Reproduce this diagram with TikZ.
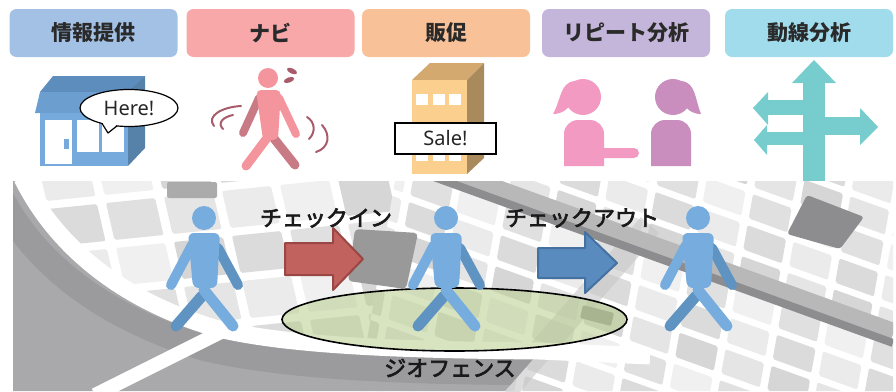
\documentclass[tikz,border=0pt]{standalone}
\usepackage{fontspec}
\newfontfamily\jp{Noto Sans CJK JP}
\newfontfamily\jpm{Noto Sans CJK JP}[FakeBold=3]
\newfontfamily\latin{Noto Sans}
\usetikzlibrary{shapes.geometric}

\definecolor{lblblue}{HTML}{A3C1E5}
\definecolor{lblpink}{HTML}{F8A8A8}
\definecolor{lblorange}{HTML}{F9C198}
\definecolor{lblpurple}{HTML}{C4B6DA}
\definecolor{lblcyan}{HTML}{A1DCEC}
\definecolor{labeltext}{HTML}{2A2A2A}
\definecolor{walk}{HTML}{76ACDE}
\definecolor{walkdark}{HTML}{5F93C1}
\definecolor{navi}{HTML}{F4949D}
\definecolor{navidark}{HTML}{C97B85}
\definecolor{navimark}{HTML}{A85C6B}
\definecolor{shopfront}{HTML}{76AADC}
\definecolor{shoproof}{HTML}{5C8DBD}
\definecolor{shopside}{HTML}{5682A9}
\definecolor{awning}{HTML}{6C9FCF}
\definecolor{bldfront}{HTML}{FBCF8E}
\definecolor{bldtop}{HTML}{D3A96F}
\definecolor{bldside}{HTML}{A98A5D}
\definecolor{girlpink}{HTML}{F39AC3}
\definecolor{girlpurple}{HTML}{C98DBE}
\definecolor{signteal}{HTML}{77CCCD}
\definecolor{inred}{HTML}{C2625F}
\definecolor{inredline}{HTML}{9A4645}
\definecolor{outblue}{HTML}{5A8BBE}
\definecolor{outblueline}{HTML}{44719F}
\definecolor{fence}{HTML}{B9CD8E}
\definecolor{mapdark}{HTML}{A9A9AB}
\definecolor{mapdarker}{HTML}{9B9B9D}
\definecolor{rail}{HTML}{8D8D8F}

\tikzset{
  tag/.style={rounded corners=7pt, minimum width=168, minimum height=48, inner sep=0,
    font=\jp\bfseries\fontsize{21}{21}\selectfont, text=labeltext},
  maptext/.style={inner sep=0, font=\jpm\fontsize{22}{22}\selectfont, text=black!90},
  limb/.style={line width=10, line cap=round},
  walker/.pic={
    \draw[walkdark, limb] (14,30) -- (34,67);
    \draw[walkdark, limb, line width=11] (-2,78) -- (-28,108);
    \fill[walk, rounded corners=6] (-16,15) -- (16,15) -- (13,70) -- (-11,70) -- cycle;
    \draw[walk, limb] (-12,27) -- (-33,67);
    \draw[walk, limb, line width=11] (0,72) -- (29,108);
    \fill[walk] (0,0) circle (12);
  }
}

\begin{document}
\begin{tikzpicture}[x=1pt,y=-1pt]
\useasboundingbox (0,0) rectangle (896,391);

% ---------- category tags ----------
\node[tag, fill=lblblue]   (t1) at (93.5,33)  {情報提供};
\node[tag, fill=lblpink]   (t2) at (270.5,33) {ナビ};
\node[tag, fill=lblorange] (t3) at (446,33)   {販促};
\node[tag, fill=lblpurple] (t4) at (626,33)   {リピート分析};
\node[tag, fill=lblcyan]   (t5) at (809,33)   {動線分析};

% ---------- shop ----------
\fill[shoproof] (53,76) -- (145,76) -- (131,92) -- (40,92) -- cycle;
\fill[awning] (40,92) -- (131,92) -- (128,113) -- (35,113) -- cycle;
\fill[shopside] (128,92) -- (145,76) -- (145,148) -- (128,166) -- cycle;
\fill[shopfront] (40,113) rectangle (128,166);
\fill[white] (45,120) rectangle (72,164);
\fill[shopfront] (64,139) rectangle (69,149);
\fill[white] (77,120) rectangle (99,152);
\fill[white] (102,120) rectangle (124,152);
\node[ellipse, draw, fill=white, line width=1.2, minimum width=98, minimum height=37, inner sep=0,
      font=\latin\fontsize{20}{20}\selectfont, text=black!85] (here) at (129,108) {Here!};
\fill[white] (101,121) -- (108,133) -- (118,123.5) -- cycle;
\draw[line width=1.2, line join=round] (102,123.4) -- (108,133) -- (117,125.9);

% ---------- navigating walker ----------
\draw[navidark, line width=8, line cap=round] (259,98) -- (243,133);
\draw[navidark, line width=9, line cap=round] (272,136) -- (295,165);
\fill[navi, rounded corners=5] (256,90) -- (281,90) -- (278,140) -- (263,140) -- cycle;
\draw[navi, line width=8, line cap=round] (279,98) -- (296,134);
\draw[navi, line width=9, line cap=round] (270,134) -- (246,166);
\fill[navi] (268,78) circle (10);
\fill[navimark, rotate around={-25:(292,71)}] (292,71) ellipse (5.5 and 2.6);
\fill[navimark, rotate around={20:(289,80)}] (289,80) ellipse (5.5 and 2.6);
\draw[navimark, line width=2, line cap=round] (241,106) .. controls (222,107) and (206,116) .. (214,126);
\draw[navimark, line width=2, line cap=round] (233,115) .. controls (223,117) and (217,123) .. (223,129);
\draw[navimark, line width=2, line cap=round] (307,117) .. controls (315,122) and (316,132) .. (309,139);
\draw[navimark, line width=2, line cap=round] (322,125) .. controls (331,135) and (329,148) .. (316,152);

% ---------- building with sale sign ----------
\fill[bldtop] (412,80) -- (430,63) -- (484,63) -- (467,80) -- cycle;
\fill[bldside] (467,80) -- (484,63) -- (484,158) -- (467,174) -- cycle;
\fill[bldfront] (412,80) rectangle (467,174);
\foreach \wx in {416,433,449}
  \foreach \wy in {94,122,150}
    \fill[white] (\wx,\wy) rectangle ++(12,11);
\node[draw, fill=white, line width=1.2, minimum width=101, minimum height=31, inner sep=0,
      font=\latin\fontsize{20}{20}\selectfont, text=black!85] (sale) at (445.5,138.5) {Sale!};

% ---------- repeat visitors ----------
\fill[girlpink] (564,166) {[rounded corners=14] -- (564,120) -- (604,120)} -- (604,166) -- cycle;
\fill[girlpink, rounded corners=5] (598,148) rectangle (639,158);
\fill[girlpink] (575,81) .. controls (560,82) and (561,100) .. (553,114)
  .. controls (562,114) and (569,109) .. (573,100) -- cycle;
\fill[girlpink] (583,97) circle (18);
\fill[girlpurple] (651,166) {[rounded corners=14] -- (651,120) -- (691,120)} -- (691,166) -- cycle;
\fill[girlpurple] (681,81) .. controls (696,82) and (695,100) .. (701,114)
  .. controls (692,114) and (685,109) .. (683,100) -- cycle;
\fill[girlpurple] (673,97) circle (18);

% ---------- signpost ----------
\fill[signteal] (803,82) rectangle (825,181);
\fill[signteal] (792,83) -- (814,60) -- (836,83) -- cycle;
\fill[signteal] (767,100) rectangle (806,115);
\fill[signteal] (768,92) -- (753,108) -- (768,125) -- cycle;
\fill[signteal] (766,132) rectangle (806,145);
\fill[signteal] (767,125) -- (754,140) -- (767,155) -- cycle;
\fill[signteal] (822,117) rectangle (861,135);
\fill[signteal] (860,108) -- (878,127) -- (860,145) -- cycle;

% ---------- town map ----------
\begin{scope}
  \clip (13,181) rectangle (893,391);
  \fill[white] (13,181) rectangle (893,391);
  % street grid, east part
  \begin{scope}
    \clip (395,181) -- (893,181) -- (893,391) -- (358,391) -- cycle;
    \foreach \i in {-4,...,11}
      \foreach \j in {-10,...,8}{
        \pgfmathtruncatemacro\s{6+2*mod(3*\i+7*\j+200,6)}
        \fill[black!\s, rounded corners=2] ({420+\i*46-\j*5.5},{140+\i*16.6+\j*31})
          -- ++(38.6,13.9) -- ++(-4.3,24.2) -- ++(-38.6,-13.9) -- cycle;
      }
  \end{scope}
  % street grid, west part
  \begin{scope}
    \clip (13,181) -- (395,181) -- (358,391) -- (13,391) -- cycle;
    \foreach \i in {0,...,7}
      \foreach \j in {-1,...,4}{
        \pgfmathtruncatemacro\s{6+2*mod(5*\i+3*\j+200,6)}
        \fill[black!\s, rounded corners=2] ({-20+\i*58+\j*10},{170-\i*6+\j*45})
          -- ++(49,-5) -- ++(8.5,37) -- ++(-49,5) -- cycle;
      }
  \end{scope}
  % soft shadow crossing the geofence
  \draw[black!22, line width=24, opacity=0.6] (650,225) -- (505,391);
  % railway embankment
  \draw[black!28, line width=22] (420,163) -- (893,334);
  \draw[rail, line width=8] (420,172) -- (893,343);
  % darker blocks
  \fill[rail, rounded corners=3] (787,234) -- (807,195) -- (864,217) -- (840,249) -- cycle;
  \fill[black!40, rounded corners=4] (355,229) -- (418,233) -- (406,289) -- (348,281) -- cycle;
  \fill[black!33, rounded corners=2] (167,182) rectangle (217,198);
  \fill[black!42, rounded corners=2] (583,305) -- (614,313) -- (611,326) -- (580,318) -- cycle;
  % low-lying district south of the ring road
  \fill[mapdark] (22,178) .. controls (55,245) and (120,300) .. (215,328)
    .. controls (290,347) and (420,350) .. (540,351) -- (505,391) -- (13,391) -- (13,178) -- cycle;
  \begin{scope}
    \clip (22,178) .. controls (55,245) and (120,300) .. (215,328)
      .. controls (290,347) and (420,350) .. (540,351) -- (505,391) -- (13,391) -- (13,178) -- cycle;
    \draw[mapdarker, line width=26] (0,196) .. controls (35,265) and (105,318) .. (205,348)
      .. controls (290,368) and (420,372) .. (540,372);
  \end{scope}
  % roads
  \draw[white, line width=14] (95,395) -- (225,330);
  \draw[white, line width=17] (22,178) .. controls (55,245) and (120,300) .. (215,328)
    .. controls (290,347) and (420,350) .. (540,351) -- (650,356);
\end{scope}

% ---------- geofence ----------
\node[ellipse, draw=black, line width=1.6, fill=fence, fill opacity=0.55,
      minimum width=345, minimum height=63, inner sep=0] (geofence) at (454.5,319.5) {};

% ---------- check-in / check-out arrows ----------
\filldraw[fill=inred, draw=inredline, line width=2, line join=round]
  (285,243) -- (333,243) -- (333,228) -- (363,259) -- (333,290) -- (333,275) -- (285,275) -- cycle;
\filldraw[fill=outblue, draw=outblueline, line width=2, line join=round]
  (538,248) -- (585,248) -- (585,232) -- (617,263) -- (585,293) -- (585,278) -- (538,278) -- cycle;

% ---------- walkers ----------
\pic at (204,218) {walker};
\pic at (446,218) {walker};
\pic at (698,218) {walker};

% ---------- map labels ----------
\node[maptext] (inlabel)  at (326,218) {チェックイン};
\node[maptext] (outlabel) at (582,218) {チェックアウト};
\node[maptext] (fencelabel) at (450,368) {ジオフェンス};
\end{tikzpicture}
\end{document}
